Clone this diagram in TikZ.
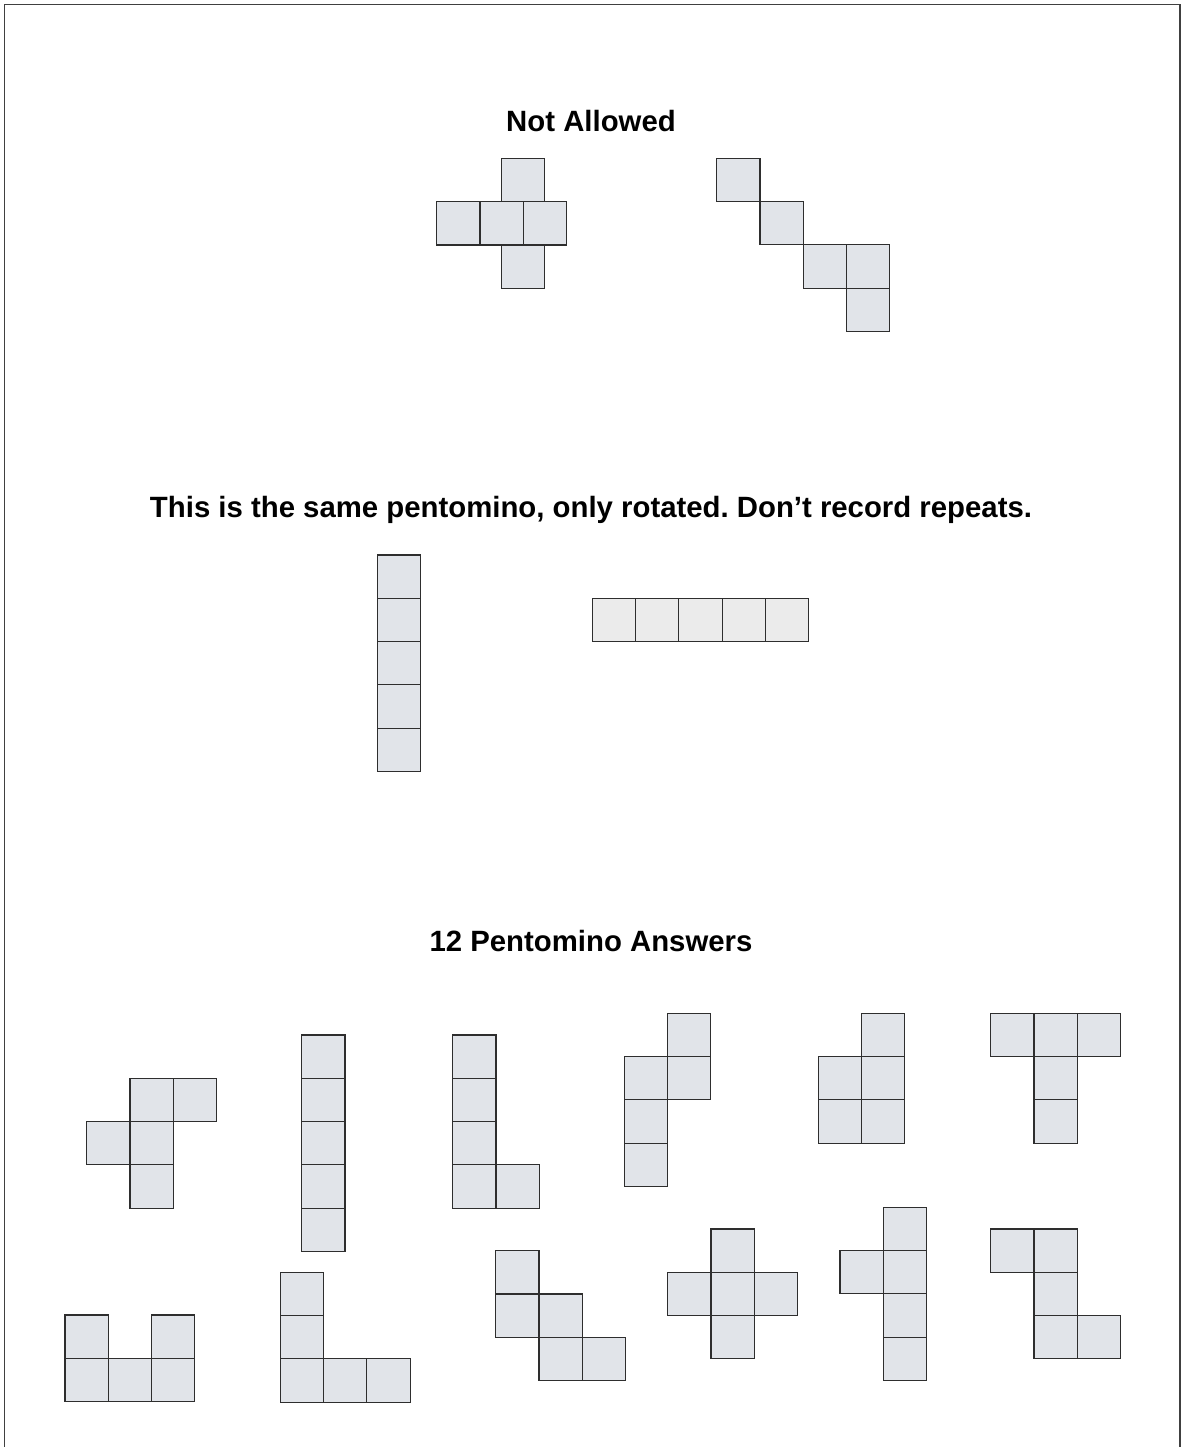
\documentclass[tikz,border=0pt]{standalone}
\usepackage{fontspec}
\setmainfont{Liberation Sans}
\frenchspacing

\definecolor{cellfill}{HTML}{E1E4E9}
\definecolor{cellpale}{HTML}{EBEBEB}
\definecolor{celledge}{HTML}{2E2E2E}

% one pentomino: origin (top left, px), list of col/row cells
\newcommand{\pento}[3][]{%
	\begin{scope}[shift={(#2)}]
		\foreach \col/\row in {#3}{
			\draw[cell,#1] (\col*\s,\row*\s) rectangle ++(\s,\s);
		}
	\end{scope}}

\begin{document}
\begin{tikzpicture}[x=0.02cm, y=-0.02cm,
	cell/.style={fill=cellfill, draw=celledge, line width=0.6pt},
	heading/.style={font=\bfseries\fontsize{16.7}{20}\selectfont, inner sep=0pt}]
	% -------- Tunables --------
	\def\s{43.3}   % side of one square (px)
	
	\useasboundingbox (0,0) rectangle (1182,1447);
	
	% frame (bottom edge runs off the page)
	\draw[line width=1pt, black!75] (4.5,1460) -- (4.5,4.5) -- (1180,4.5) -- (1180,1460);
	
	% -------- Not allowed --------
	\node[heading] (notallowed) at (591,121) {Not Allowed};
	\pento{436.7,201.7}{1.5/-1, 0/0, 1/0, 2/0, 1.5/1}
	\pento{716.7,158.3}{0/0, 1/1, 2/2, 3/2, 3/3}
	
	% -------- Rotations --------
	\node[heading] (rotated) at (591,510) {This is the same pentomino, only rotated. Don’t record repeats.};
	\pento{377.3,555}{0/0, 0/1, 0/2, 0/3, 0/4}
	\pento[fill=cellpale]{592.3,598.3}{0/0, 1/0, 2/0, 3/0, 4/0}
	
	% -------- The twelve --------
	\node[heading] (answers) at (591,941) {12 Pentomino Answers};
	% top row
	\pento{86.7,1078.3}{1/0, 2/0, 0/1, 1/1, 1/2}     % F
	\pento{301.7,1035}{0/0, 0/1, 0/2, 0/3, 0/4}      % I
	\pento{452.7,1035}{0/0, 0/1, 0/2, 0/3, 1/3}      % L
	\pento{624.3,1013.3}{1/0, 0/1, 1/1, 0/2, 0/3}    % N
	\pento{818.3,1013.3}{1/0, 0/1, 1/1, 0/2, 1/2}    % P
	\pento{990.7,1013.3}{0/0, 1/0, 2/0, 1/1, 1/2}    % T
	% bottom row
	\pento{65,1315}{0/0, 2/0, 0/1, 1/1, 2/1}         % U
	\pento{280.3,1272.3}{0/0, 0/1, 0/2, 1/2, 2/2}    % V
	\pento{495.7,1250.7}{0/0, 0/1, 1/1, 1/2, 2/2}    % W
	\pento{667.7,1229}{1/0, 0/1, 1/1, 2/1, 1/2}      % X
	\pento{840,1207.3}{1/0, 0/1, 1/1, 1/2, 1/3}      % Y
	\pento{990.7,1229}{0/0, 1/0, 1/1, 1/2, 2/2}      % Z
	
\end{tikzpicture}
\end{document}
